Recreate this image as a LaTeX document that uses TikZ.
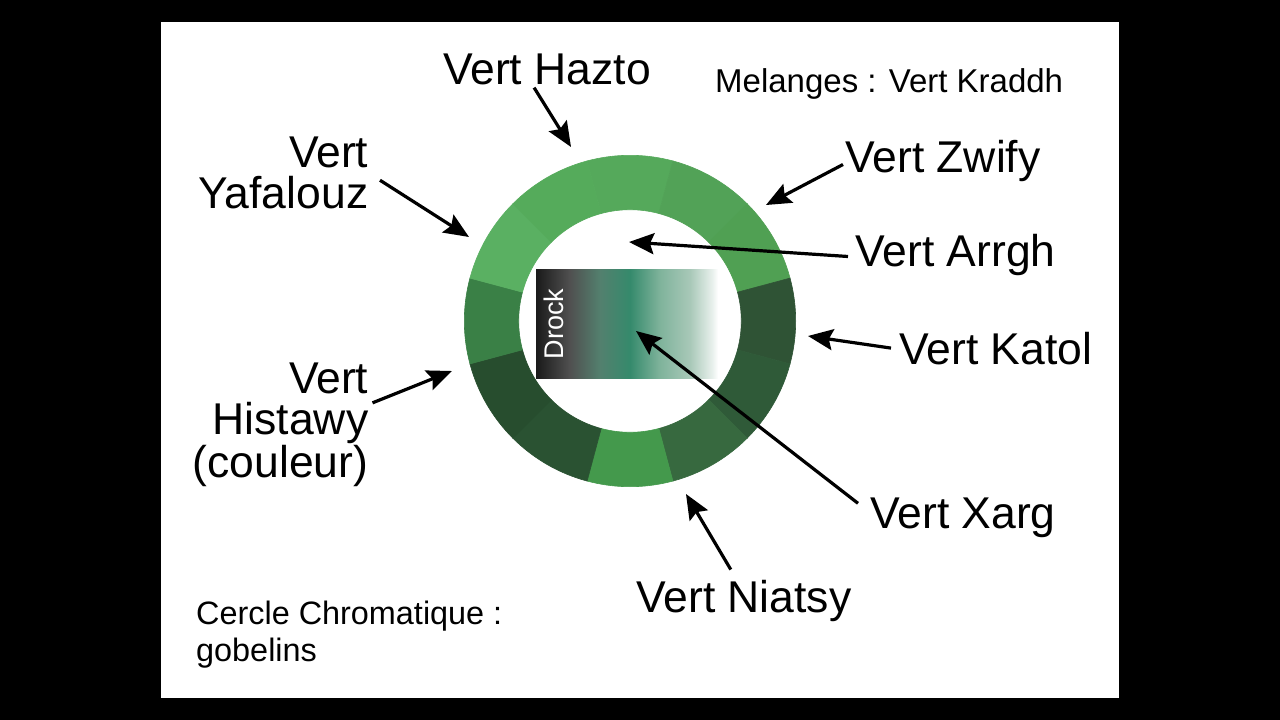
\documentclass[tikz,border=0pt]{standalone}
\usepackage{fontspec}
\setmainfont{Liberation Sans}
\usetikzlibrary{arrows.meta}
\definecolor{ringA}{HTML}{55A95B}
\definecolor{ringB}{HTML}{52A257}
\definecolor{ringC}{HTML}{50A053}
\definecolor{ringD}{HTML}{2F5335}
\definecolor{ringE}{HTML}{2F5A38}
\definecolor{ringF}{HTML}{37693F}
\definecolor{ringG}{HTML}{44994C}
\definecolor{ringH}{HTML}{2A5232}
\definecolor{ringI}{HTML}{274D2E}
\definecolor{ringJ}{HTML}{3A8046}
\definecolor{ringK}{HTML}{5AB062}
\definecolor{ringL}{HTML}{55AB5B}
\definecolor{scaleA}{HTML}{1A1A1A}
\definecolor{scaleB}{HTML}{505050}
\definecolor{scaleC}{HTML}{53806E}
\definecolor{scaleD}{HTML}{358A6C}
\definecolor{scaleE}{HTML}{7FB39B}
\definecolor{scaleF}{HTML}{A8C8B8}
\definecolor{scaleG}{HTML}{E8F0EC}
\pgfdeclarehorizontalshading{drockscale}{100bp}{color(0bp)=(scaleA); color(25bp)=(scaleA); color(34.3bp)=(scaleB);
  color(42.6bp)=(scaleC); color(50.8bp)=(scaleD); color(59bp)=(scaleE); color(67.3bp)=(scaleF);
  color(73.4bp)=(scaleG); color(75bp)=(white); color(100bp)=(white)}
\tikzset{
  biglabel/.style={font=\fontsize{44.5}{41}\selectfont, inner sep=0pt, text=black},
  smalllabel/.style={font=\fontsize{32.4}{37}\selectfont, inner sep=0pt, text=black},
  pointer/.style={line width=3.2pt, -{Stealth[length=25pt,width=21pt,inset=4pt]}}
}
\begin{document}
\begin{tikzpicture}[x=1pt, y=-1pt]
  \useasboundingbox (0,0) rectangle (1280,720);
  \fill[black] (0,0) rectangle (1280,720);
  \fill[white] (161,22) rectangle (1119,698);
  % ring
  \foreach \ang/\col in {-90/ringA, -60/ringB, -30/ringC, 0/ringD, 30/ringE, 60/ringF,
                         90/ringG, 120/ringH, 150/ringI, 180/ringJ, 210/ringK, 240/ringL}{
    \filldraw[\col, line width=0.6pt] ([shift={(630,321)}]\ang-15:165.7) arc[start angle=\ang-15, end angle=\ang+15, radius=165.7]
      -- ([shift={(630,321)}]\ang+15:111.3) arc[start angle=\ang+15, end angle=\ang-15, radius=111.3] -- cycle;
  }
  % scale
  \shade[shading=drockscale] (536,269) rectangle (718,378);
  \node[rotate=90, text=white, inner sep=0pt, font=\fontsize{27}{27}\selectfont] (drock) at (554,324) {Drock};
  % labels
  \node[biglabel, anchor=base west] (hazto) at (443,84) {Vert Hazto};
  \node[biglabel, anchor=base west] (zwify) at (845,172) {Vert Zwify};
  \node[biglabel, anchor=base west] (arrgh) at (855,266) {Vert Arrgh};
  \node[biglabel, anchor=base west] (katol) at (899,364) {Vert Katol};
  \node[biglabel, anchor=base west] (xarg) at (870,528) {Vert Xarg};
  \node[biglabel, anchor=base west] (niatsy) at (636,612) {Vert Niatsy};
  \node[biglabel, anchor=north east, align=right] (yafalouz) at (368.5,137) {Vert\\Yafalouz};
  \node[biglabel, anchor=north east, align=right] (histawy) at (368.5,363) {Vert\\Histawy\\(couleur)};
  \node[smalllabel, font=\fontsize{33}{37}\selectfont, anchor=base west] (melanges) at (715,92) {Melanges : Vert Kraddh};
  \node[smalllabel, anchor=north west, align=left] (cercle) at (196,601) {Cercle Chromatique :\\gobelins};
  % arrow tips
  \coordinate (tiphazto) at (571,147);
  \coordinate (tipyafalouz) at (469,237);
  \coordinate (tipzwify) at (766,205);
  \coordinate (tiparrgh) at (629,242);
  \coordinate (tipkatol) at (808,336);
  \coordinate (tiphistawy) at (452,371);
  \coordinate (tipxarg) at (636,331);
  \coordinate (tipniatsy) at (686,494);
  \draw[pointer] (hazto.south) ++(-13,3) -- (tiphazto);
  \draw[pointer] (yafalouz.east) ++(11.5,7) -- (tipyafalouz);
  \draw[pointer] (zwify.west) ++(-2,4) -- (tipzwify);
  \draw[pointer] (arrgh.west) ++(-7,2) -- (tiparrgh);
  \draw[pointer] (katol.west) ++(-8,0) -- (tipkatol);
  \draw[pointer] (histawy.east) ++(4,-22) -- (tiphistawy);
  \draw[pointer] (xarg.west) ++(-12,-14) -- (tipxarg);
  \draw[pointer] (niatsy.north) ++(-13,-10) -- (tipniatsy);
\end{tikzpicture}
\end{document}
